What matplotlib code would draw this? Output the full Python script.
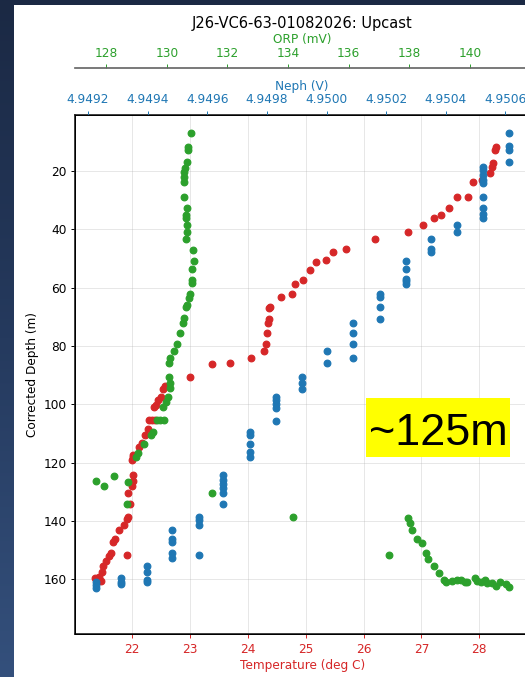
import matplotlib
matplotlib.use("Agg")
import matplotlib.pyplot as plt
import numpy as np
from matplotlib.patches import Rectangle
from matplotlib.colors import LinearSegmentedColormap
from matplotlib.ticker import FormatStrFormatter

# ---- Upcast profile: temperature vs depth ----
temp_c = [28.285, 28.268, 28.247, 28.219, 28.190, 28.057, 27.896, 27.798, 27.615,
          27.470, 27.339, 27.211, 27.034, 26.763, 26.200, 25.688, 25.475, 25.355,
          25.175, 25.078, 24.946, 24.808, 24.761, 24.578, 24.388, 24.364, 24.359,
          24.347, 24.337, 24.319, 24.273, 24.060, 23.686, 23.379, 22.996, 22.564,
          22.525, 22.490, 22.449, 22.409, 22.380, 22.297, 22.345, 22.392, 22.266,
          22.219, 22.162, 22.121, 22.017, 22.007, 21.990, 22.017, 22.012, 22.000,
          21.926, 21.960, 21.931, 21.903, 21.857, 21.776, 21.696, 21.667, 21.624,
          21.593, 21.541, 21.494, 21.469, 21.431, 21.386, 21.455, 21.356, 21.903]
temp_depth = [11.9, 12.9, 17.3, 18.6, 20.7, 23.2, 24.0, 29.0, 29.0,
              32.9, 35.1, 36.3, 38.7, 41.0, 43.4, 46.9, 47.7, 50.7,
              51.3, 53.9, 57.3, 58.7, 62.1, 63.2, 66.6, 67.1, 70.9,
              72.3, 75.6, 79.5, 81.8, 84.2, 85.8, 86.2, 90.5, 93.7,
              94.9, 97.4, 98.5, 100.1, 101.1, 105.4, 105.4, 105.4, 108.6,
              110.5, 113.4, 114.5, 117.4, 118.0, 119.1, 124.2, 126.4, 128.0,
              130.5, 134.3, 138.6, 139.3, 141.3, 143.0, 146.3, 147.1, 150.8,
              152.1, 153.7, 155.4, 157.3, 159.0, 160.3, 160.7, 159.5, 151.6]

# ---- Nephelometer voltage vs depth ----
neph_v = [4.950612, 4.950612, 4.950612, 4.950612,
          4.950525, 4.950525, 4.950525, 4.950525, 4.950525, 4.950525,
          4.950525, 4.950525, 4.950525,
          4.950438, 4.950438,
          4.950351, 4.950351, 4.950351,
          4.950265, 4.950265, 4.950265, 4.950265, 4.950265,
          4.950178, 4.950178, 4.950178, 4.950178,
          4.950090, 4.950090, 4.950090, 4.950090,
          4.950003, 4.950003,
          4.949919, 4.949919, 4.949919,
          4.949831, 4.949831, 4.949831, 4.949831, 4.949831,
          4.949744, 4.949744, 4.949744, 4.949744, 4.949744,
          4.949654, 4.949654, 4.949654, 4.949654, 4.949654, 4.949654,
          4.949571, 4.949571, 4.949571, 4.949571,
          4.949483, 4.949483, 4.949483, 4.949483, 4.949483,
          4.949397, 4.949397, 4.949397, 4.949397,
          4.949311, 4.949311, 4.949311,
          4.949225, 4.949225, 4.949225]
neph_depth = [7.2, 11.5, 12.9, 17.1,
              18.7, 19.9, 21.5, 23.2, 24.2, 29.0,
              32.9, 34.7, 36.3,
              38.6, 40.9,
              43.4, 46.8, 47.8,
              50.9, 53.7, 57.1, 57.9, 58.8,
              62.1, 63.3, 66.8, 70.8,
              72.3, 75.5, 79.5, 84.2,
              81.7, 86.0,
              90.5, 92.8, 94.7,
              97.4, 98.5, 99.9, 101.4, 105.6,
              109.4, 110.5, 113.7, 116.2, 117.9,
              124.2, 125.9, 127.3, 128.8, 130.5, 134.2,
              138.5, 139.6, 141.3, 151.6,
              143.0, 146.3, 147.3, 150.9, 152.6,
              155.4, 157.6, 160.3, 160.9,
              159.6, 160.8, 161.6,
              160.8, 161.9, 162.8]

# ---- Oxidation-reduction potential vs depth ----
orp_mv = [130.80, 130.71, 130.71, 130.67, 130.60, 130.58, 130.56, 130.57, 130.58,
          130.67, 130.64, 130.64, 130.67, 130.66, 130.64, 130.87, 130.89, 130.83,
          130.83, 130.83, 130.78, 130.72, 130.68, 130.64, 130.58, 130.52, 130.42,
          130.34, 130.25, 130.11, 130.06, 130.07, 130.12, 130.09, 130.03, 129.97,
          129.89, 129.66, 129.79, 129.92, 129.54, 129.48, 129.26, 129.04, 128.97,
          127.65, 127.92, 128.27, 128.71, 128.68, 131.49, 134.18, 137.33,
          137.96, 138.02, 138.10, 138.25, 138.43, 138.54, 138.63, 138.82, 138.98,
          139.15, 139.22, 139.42, 139.57, 139.70, 139.84, 139.91, 140.17, 140.24,
          140.36, 140.50, 140.57, 140.74, 140.85, 141.01, 141.18, 141.29]
orp_depth = [7.2, 11.8, 12.9, 17.1, 19.2, 20.3, 22.2, 23.8, 29.0,
             32.9, 35.2, 36.3, 38.6, 40.9, 43.5, 47.2, 50.8, 53.7,
             57.3, 58.6, 62.1, 63.5, 66.0, 66.8, 70.5, 72.1, 75.5,
             79.5, 81.7, 84.2, 86.0, 90.5, 92.8, 94.5, 97.4, 99.1,
             100.8, 105.4, 105.4, 105.4, 109.4, 110.5, 113.7, 116.8, 117.9,
             126.2, 128.1, 124.4, 126.7, 134.2, 130.5, 138.5, 151.6,
             139.0, 140.8, 143.0, 146.2, 147.4, 151.0, 153.1, 155.4, 157.7,
             160.2, 160.8, 160.5, 160.2, 160.2, 160.8, 160.8, 159.4, 160.5,
             160.8, 160.2, 161.1, 161.3, 162.2, 160.8, 161.6, 162.5]

title = "J26-VC6-63-01082026: Upcast"
note = "~125m"

DPI = 87.5
W, H = 525, 677
fig = plt.figure(figsize=(W / DPI, H / DPI), dpi=DPI)

# slide backdrop behind the white figure canvas
bg = fig.add_axes([0, 0, 1, 1], zorder=-10)
slide = LinearSegmentedColormap.from_list("slide", ["#1b2944", "#253a5e", "#34507c"])
bg.imshow(np.linspace(0, 1, 256).reshape(-1, 1), aspect="auto", cmap=slide,
          extent=[0, 1, 0, 1], origin="upper")
bg.add_patch(Rectangle((14 / W, 0), 1, (H - 5) / H, transform=bg.transAxes,
                       facecolor="white", edgecolor="none"))
bg.set_xlim(0, 1)
bg.set_ylim(0, 1)
bg.axis("off")

left, right, top, bottom = 75, 529.5, 115, 634.3
ax = fig.add_axes([left / W, (H - bottom) / H, (right - left) / W, (bottom - top) / H])

red, blue, green = "tab:red", "tab:blue", "tab:green"
ms = 30

ax.scatter(temp_c, temp_depth, color=red, s=ms, zorder=3)
ax.set_xlim(21.01, 28.87)
ax.set_ylim(178.8, 0.9)
ax.grid(True, color="#b0b0b0", alpha=0.3)
ax.set_axisbelow(True)
ax.set_xlabel("Temperature (deg C)", color=red, labelpad=3)
ax.tick_params(axis="x", colors=red)
ax.set_ylabel("Corrected Depth (m)")
for sp in ax.spines.values():
    sp.set_linewidth(1.4)
    sp.set_color("#222222")

ax2 = ax.twiny()
ax2.scatter(neph_v, neph_depth, color=blue, s=ms)
ax2.set_xlim(4.949156, 4.950681)
ax2.xaxis.set_major_formatter(FormatStrFormatter("%.4f"))
ax2.set_xlabel("Neph (V)", color=blue, labelpad=3)
ax2.tick_params(axis="x", colors=blue)

ax3 = ax.twiny()
ax3.spines["top"].set_position(("outward", 38.4))
ax3.spines["top"].set_linewidth(1.4)
ax3.spines["top"].set_color("#666666")
ax3.scatter(orp_mv, orp_depth, color=green, s=ms)
ax3.set_xlim(126.97, 141.97)
ax3.set_xlabel("ORP (mV)", color=green, labelpad=3)
ax3.tick_params(axis="x", colors=green)

ax.set_title(title, pad=4)

# highlighted depth note
fig.add_artist(Rectangle((366 / W, (H - 457) / H), 144 / W, 59 / H,
                         transform=fig.transFigure, facecolor="#ffff00",
                         edgecolor="none", zorder=20))
fig.text(438 / W, (H - 445) / H, note, ha="center", va="baseline",
         fontsize=37, family="Liberation Sans", color="black", zorder=21)

fig.savefig("out.png", dpi=DPI)
